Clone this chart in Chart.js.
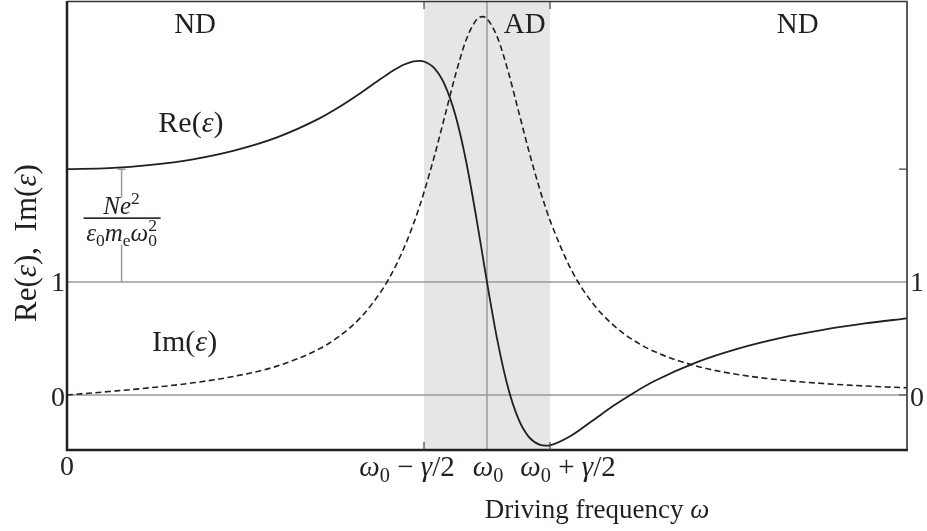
<!DOCTYPE html>
<html>
<head>
<meta charset="utf-8">
<script src="https://cdn.jsdelivr.net/npm/chart.js@4/dist/chart.umd.min.js"></script>
<style>
  html, body { margin: 0; padding: 0; background: #fff; }
  canvas { display: block; }
</style>
</head>
<body>
<canvas id="c" width="927" height="531"></canvas>
<script>
// driving frequency in units of omega0
const freqs = [0, 0.1, 0.2, 0.3, 0.4, 0.5, 0.6, 0.65, 0.7, 0.75, 0.775, 0.8, 0.825, 0.84, 0.85, 0.875, 0.9, 0.925, 0.95, 0.975, 0.99, 1.0,
  1.025, 1.05, 1.075, 1.1, 1.125, 1.14, 1.15, 1.2, 1.25, 1.3, 1.35, 1.4, 1.5, 1.6, 1.7, 1.8, 1.9, 2.0];
const reEps = [2.0, 2.009, 2.038, 2.088, 2.167, 2.282, 2.448, 2.555, 2.677, 2.808, 2.870, 2.923, 2.956, 2.960, 2.954, 2.893, 2.743, 2.475, 2.075, 1.561, 1.225, 1.0,
  0.479, 0.066, -0.214, -0.373, -0.440, -0.449, -0.446, -0.361, -0.231, -0.098, 0.021, 0.126, 0.292, 0.414, 0.507, 0.578, 0.634, 0.679];
const imEps = [0, 0.031, 0.065, 0.108, 0.167, 0.256, 0.407, 0.525, 0.690, 0.930, 1.089, 1.282, 1.516, 1.678, 1.796, 2.120, 2.477, 2.836, 3.142, 3.324, 3.352, 3.333,
  3.166, 2.871, 2.515, 2.157, 1.830, 1.654, 1.547, 1.114, 0.821, 0.621, 0.482, 0.383, 0.255, 0.180, 0.133, 0.102, 0.080, 0.064];

const omega0 = 1;
const bandLo = 0.85, bandHi = 1.15;   // omega0 -/+ gamma/2
const yTickVals = [0, 1];
const reAtZero = 2;
const regionLabels = [["ND", 0.305], ["AD", 1.09], ["ND", 1.74]];

const INK = '#231f20';
const GRAY = '#9b9b9b';
const FONT = '"Liberation Serif", "Times New Roman", serif';

// draw text made of pieces: {t, it, sub, sup, back}
function rich(ctx, parts, x, y, size, align) {
  const fontOf = p => ((p.it ? 'italic ' : '') + ((p.sub || p.sup) ? size * 0.7 : size) + 'px ' + FONT);
  let total = 0, prevW = 0;
  const widths = parts.map(p => {
    ctx.font = fontOf(p);
    const w = ctx.measureText(p.t).width;
    if (p.back) { total -= prevW; total += Math.max(w, prevW); }
    else total += w;
    prevW = w;
    return w;
  });
  let cx = align === 'center' ? x - total / 2 : (align === 'right' ? x - total : x);
  ctx.textAlign = 'left';
  ctx.textBaseline = 'alphabetic';
  const base = y + size * 0.33;
  prevW = 0;
  parts.forEach((p, i) => {
    ctx.font = fontOf(p);
    if (p.back) cx -= prevW;
    const dy = p.sub ? size * 0.22 : (p.sup ? -size * 0.38 : 0);
    ctx.fillText(p.t, cx, base + dy);
    cx += p.back ? Math.max(widths[i], prevW) : widths[i];
    prevW = widths[i];
  });
}

const w0 = [{ t: 'ω', it: true }, { t: '0', sub: true }];

const decor = {
  id: 'decor',
  beforeDatasetsDraw(chart) {
    const { ctx, chartArea: a, scales: { x, y } } = chart;
    ctx.save();
    ctx.fillStyle = '#e6e6e8';
    const b0 = x.getPixelForValue(bandLo), b1 = x.getPixelForValue(bandHi);
    ctx.fillRect(b0, a.top, b1 - b0, a.bottom - a.top);

    ctx.strokeStyle = GRAY;
    ctx.lineWidth = 1.5;
    ctx.beginPath();
    yTickVals.forEach(v => {
      const py = y.getPixelForValue(v);
      ctx.moveTo(a.left, py); ctx.lineTo(a.right, py);
    });
    const px0 = x.getPixelForValue(omega0);
    ctx.moveTo(px0, a.top); ctx.lineTo(px0, a.bottom);

    // bracket showing Ne^2/(eps0 me w0^2)
    const bx = x.getPixelForValue(0.13);
    ctx.moveTo(bx, y.getPixelForValue(reAtZero)); ctx.lineTo(bx, y.getPixelForValue(1.75));
    ctx.moveTo(bx, y.getPixelForValue(1.33)); ctx.lineTo(bx, y.getPixelForValue(1));
    ctx.moveTo(bx - 4, y.getPixelForValue(reAtZero)); ctx.lineTo(bx + 4, y.getPixelForValue(reAtZero));
    ctx.stroke();
    ctx.restore();
  },
  afterDatasetsDraw(chart) {
    const { ctx, chartArea: a, scales: { x, y } } = chart;
    ctx.save();
    // frame
    ctx.strokeStyle = INK;
    ctx.lineWidth = 2.5;
    ctx.beginPath();
    ctx.moveTo(a.left, a.top); ctx.lineTo(a.left, a.bottom); ctx.lineTo(a.right + 1, a.bottom);
    ctx.stroke();
    ctx.lineWidth = 1.6;
    ctx.strokeStyle = '#333';
    ctx.beginPath();
    ctx.moveTo(a.left, a.top + 0.5); ctx.lineTo(a.right, a.top + 0.5); ctx.lineTo(a.right, a.bottom);
    ctx.stroke();

    // ticks
    ctx.lineWidth = 1.2;
    ctx.strokeStyle = '#444';
    ctx.beginPath();
    [reAtZero, 0].forEach(v => {
      const py = y.getPixelForValue(v);
      ctx.moveTo(a.right - 8, py); ctx.lineTo(a.right, py);
    });
    [bandLo, bandHi].forEach(v => {
      const px = x.getPixelForValue(v);
      ctx.moveTo(px, a.top); ctx.lineTo(px, a.top + 8);
      ctx.moveTo(px, a.bottom - 8); ctx.lineTo(px, a.bottom);
    });
    ctx.stroke();

    ctx.fillStyle = INK;
    // y tick labels both sides
    yTickVals.forEach(v => {
      const py = y.getPixelForValue(v) + (v === 0 ? 2 : 0);
      rich(ctx, [{ t: String(v) }], a.left - 9, py, 28, 'center');
      rich(ctx, [{ t: String(v) }], a.right + 10, py, 28, 'center');
    });
    // x tick labels
    const ly = a.bottom + 16;
    rich(ctx, [{ t: '0' }], x.getPixelForValue(0), ly, 28, 'center');
    rich(ctx, [...w0, { t: ' − ' }, { t: 'γ', it: true }, { t: '/2' }], x.getPixelForValue(bandLo) - 17, ly, 29, 'center');
    rich(ctx, w0, x.getPixelForValue(omega0) + 1, ly, 29, 'center');
    rich(ctx, [...w0, { t: ' + ' }, { t: 'γ', it: true }, { t: '/2' }], x.getPixelForValue(bandHi) + 18, ly, 29, 'center');

    // region labels
    regionLabels.forEach(([t, v]) => rich(ctx, [{ t }], x.getPixelForValue(v), a.top + 22, 29, 'center'));

    // curve labels
    rich(ctx, [{ t: 'Re(' }, { t: 'ε', it: true }, { t: ')' }], x.getPixelForValue(0.295), y.getPixelForValue(2.42), 30, 'center');
    rich(ctx, [{ t: 'Im(' }, { t: 'ε', it: true }, { t: ')' }], x.getPixelForValue(0.28), y.getPixelForValue(0.48), 30, 'center');

    // fraction
    const fx = x.getPixelForValue(0.13);
    const fy = y.getPixelForValue(1.565);
    rich(ctx, [{ t: 'N', it: true }, { t: 'e', it: true }, { t: '2', sup: true }], fx, fy - 13, 25, 'center');
    ctx.fillRect(fx - 38, fy - 1, 77, 1.6);
    rich(ctx, [{ t: 'ε', it: true }, { t: '0', sub: true }, { t: 'm', it: true }, { t: 'e', sub: true },
      { t: 'ω', it: true }, { t: '0', sub: true }, { t: '2', sup: true, back: true }], fx, fy + 14, 25, 'center');

    // axis titles
    rich(ctx, [{ t: 'Driving frequency ' }, { t: 'ω', it: true }], (a.left + a.right) / 2 + 110, a.bottom + 59, 27, 'center');
    ctx.translate(26, 243);
    ctx.rotate(-Math.PI / 2);
    rich(ctx, [{ t: 'Re(' }, { t: 'ε', it: true }, { t: '),  Im(' }, { t: 'ε', it: true }, { t: ')' }], 0, 0, 31, 'center');
    ctx.restore();
  }
};

const pts = vals => freqs.map((f, i) => ({ x: f, y: vals[i] }));

new Chart(document.getElementById('c'), {
  type: 'line',
  data: {
    datasets: [
      {
        label: 'Re',
        data: pts(reEps),
        borderColor: INK,
        borderWidth: 1.8,
        pointRadius: 0,
        cubicInterpolationMode: 'monotone',
        fill: false
      },
      {
        label: 'Im',
        data: pts(imEps),
        borderColor: INK,
        borderWidth: 1.6,
        borderDash: [6, 3.5],
        pointRadius: 0,
        cubicInterpolationMode: 'monotone',
        fill: false
      }
    ]
  },
  options: {
    responsive: false,
    animation: false,
    layout: { padding: { left: 67, right: 20, top: 1, bottom: 81 } },
    plugins: { legend: { display: false }, tooltip: { enabled: false } },
    scales: {
      x: { type: 'linear', min: 0, max: 2, display: false },
      y: { min: -0.487, max: 3.49, display: false }
    }
  },
  plugins: [decor]
});
</script>
</body>
</html>
